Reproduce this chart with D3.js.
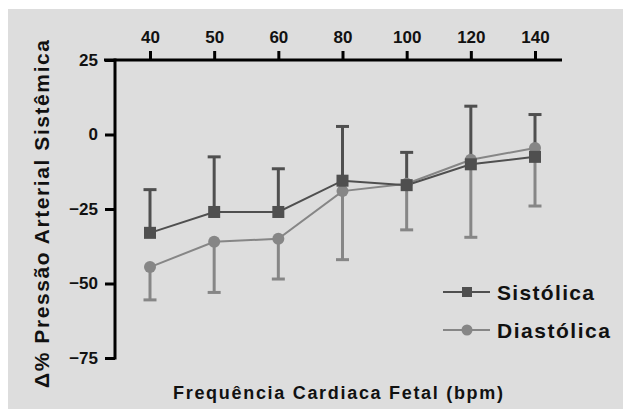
<!DOCTYPE html>
<html><head><meta charset="utf-8">
<script src="https://cdn.jsdelivr.net/npm/d3@7/dist/d3.min.js"></script>
<style>
html,body{margin:0;padding:0;background:#fff;}
svg{display:block;}
text{font-family:"Liberation Sans",Arial,sans-serif;font-weight:bold;fill:#111;}
</style></head>
<body>
<script>
const categories = ["40","50","60","80","100","120","140"];
const sistolicaMean  = [-33, -26, -26, -15.5, -17, -10, -7.5];
const sistolicaUpper = [-18.5, -7.5, -11.5, 2.7, -6, 9.5, 6.7];
const diastolicaMean  = [-44.5, -36, -35, -19, -16.5, -8.5, -4.5];
const diastolicaLower = [-55.5, -53, -48.5, -42, -32, -34.5, -24];
const yTicks = [25, 0, -25, -50, -75];

const W = 623, H = 409;
const svg = d3.select("body").append("svg").attr("width", W).attr("height", H);
svg.append("rect").attr("x", 8).attr("y", 9).attr("width", W - 8).attr("height", H - 9).attr("fill", "#dddddd");

const x = d3.scalePoint().domain(categories).range([150, 535]);
const y = d3.scaleLinear().domain([-75, 25]).range([358, 60]);

const cS = "#4f4f4f", cD = "#868686";

// axes
const xAxis = svg.append("g").attr("transform", `translate(0,${y(25)})`)
  .call(d3.axisTop(x).tickSize(9).tickPadding(8).tickSizeOuter(0));
xAxis.select(".domain").remove();
xAxis.selectAll("line").attr("stroke", "#000").attr("stroke-width", 3);
xAxis.selectAll("text").attr("font-size", 17).attr("fill", "#111").style("font-family", "Liberation Sans").style("font-weight", "bold");
svg.append("line").attr("x1", 104).attr("x2", 562).attr("y1", y(25)).attr("y2", y(25)).attr("stroke", "#000").attr("stroke-width", 3);

const yAxis = svg.append("g").attr("transform", `translate(115,0)`)
  .call(d3.axisLeft(y).tickValues(yTicks).tickSize(10).tickPadding(7).tickSizeOuter(0));
yAxis.select(".domain").remove();
yAxis.selectAll("line").attr("stroke", "#000").attr("stroke-width", 3);
yAxis.selectAll("text").attr("font-size", 17).attr("fill", "#111").style("font-family", "Liberation Sans").style("font-weight", "bold");
svg.append("line").attr("x1", 115).attr("x2", 115).attr("y1", y(25) - 1.5).attr("y2", y(-75) + 1.5).attr("stroke", "#000").attr("stroke-width", 3);

// error bars
function errBars(mean, ext, color) {
  const g = svg.append("g").attr("stroke", color).attr("stroke-width", 3);
  categories.forEach((c, i) => {
    g.append("line").attr("x1", x(c)).attr("x2", x(c)).attr("y1", y(mean[i])).attr("y2", y(ext[i]));
    g.append("line").attr("x1", x(c) - 6.5).attr("x2", x(c) + 6.5).attr("y1", y(ext[i])).attr("y2", y(ext[i]));
  });
}
errBars(diastolicaMean, diastolicaLower, cD);
errBars(sistolicaMean, sistolicaUpper, cS);

// lines
const line = d3.line().x((d, i) => x(categories[i])).y(d => y(d));
svg.append("path").datum(diastolicaMean).attr("d", line).attr("fill", "none").attr("stroke", cD).attr("stroke-width", 2);
svg.append("path").datum(sistolicaMean).attr("d", line).attr("fill", "none").attr("stroke", cS).attr("stroke-width", 2);

// markers
svg.append("g").selectAll("circle").data(diastolicaMean).join("circle")
  .attr("cx", (d, i) => x(categories[i])).attr("cy", d => y(d)).attr("r", 6).attr("fill", cD);
svg.append("g").selectAll("rect").data(sistolicaMean).join("rect")
  .attr("x", (d, i) => x(categories[i]) - 6).attr("y", d => y(d) - 6).attr("width", 12).attr("height", 12).attr("fill", cS);

// legend
const lg = svg.append("g");
lg.append("line").attr("x1", 443).attr("x2", 490).attr("y1", 292).attr("y2", 292).attr("stroke", cS).attr("stroke-width", 2);
lg.append("rect").attr("x", 462).attr("y", 287).attr("width", 10).attr("height", 10).attr("fill", cS);
lg.append("text").attr("x", 497).attr("y", 299.5).attr("font-size", 21).attr("textLength", 97).text("Sistólica");
lg.append("line").attr("x1", 443).attr("x2", 490).attr("y1", 330).attr("y2", 330).attr("stroke", cD).attr("stroke-width", 2);
lg.append("circle").attr("cx", 467).attr("cy", 330).attr("r", 5.5).attr("fill", cD);
lg.append("text").attr("x", 497).attr("y", 337.5).attr("font-size", 21).attr("textLength", 113).text("Diastólica");

// titles
svg.append("text").attr("x", 173).attr("y", 399).attr("font-size", 18).attr("textLength", 330).text("Frequência Cardiaca Fetal (bpm)");
svg.append("text").attr("transform", "translate(49,388) rotate(-90)").attr("font-size", 21).attr("textLength", 348).text("Δ% Pressão Arterial Sistêmica");
</script>
</body></html>
